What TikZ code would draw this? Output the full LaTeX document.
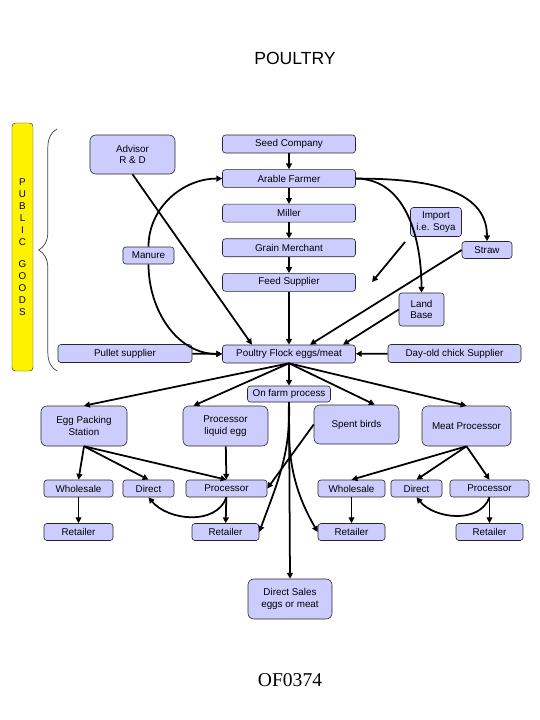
\documentclass[tikz,border=0pt]{standalone}
\usepackage{fontspec}
\setmainfont{Liberation Sans}
\newfontfamily\slidecodefont{Liberation Serif}
\usetikzlibrary{arrows.meta,positioning,decorations.pathreplacing}
\definecolor{boxblue}{RGB}{204,204,255}

\begin{document}
\begin{tikzpicture}[
            x=0.03cm, y=0.03cm,
            node distance=0.48cm,
            font=\fontsize{8.4}{10.2}\selectfont,
            box/.style={draw=black!85, line width=0.5pt, fill=boxblue, rounded corners=2.5pt, minimum width=3.99cm, minimum height=0.54cm, inner sep=1pt, align=center},
            smallbox/.style={box, minimum width=1.53cm, minimum height=0.51cm},
            bigbox/.style={box, rounded corners=5pt, minimum width=2.55cm, minimum height=1.2cm},
            flow/.style={->, line width=1.5pt},
            lightflow/.style={->, line width=0.8pt},
            >={Triangle[length=5pt,width=5pt]}
        ]
        \useasboundingbox (0,0) rectangle (540,-720);

        \node (title) at (295,-58) {\fontsize{15}{18}\selectfont POULTRY};

        % public goods bar and brace
        \node[draw=black!80, fill=yellow, rounded corners=3pt, minimum width=0.63cm, minimum height=7.44cm, inner sep=0pt, align=center] (public) at (22.5,-247) {P\\U\\B\\L\\I\\C\\[8.5pt]G\\O\\O\\D\\S};
        \draw[decorate, decoration={brace, amplitude=0.55cm}, line width=0.6pt, black!75] (57,-371) -- (57,-129);

        % supply chain
        \node[box] (seed) at (289,-144) {Seed Company};
        \node[box, below=of seed] (arable) {Arable Farmer};
        \node[box, below=of arable] (miller) {Miller};
        \node[box, below=of miller] (grain) {Grain Merchant};
        \node[box, below=of grain] (feed) {Feed Supplier};
        \node[box] (flock) at (289,-354) {Poultry Flock eggs/meat};
        \node[box, minimum width=4.02cm] (pullet) at (125,-353.5) {Pullet supplier};
        \node[box] (chick) at (454.5,-353.5) {Day-old chick Supplier};
        \node[bigbox, minimum height=1.17cm] (advisor) at (132.5,-154.5) {Advisor\\R \& D};
        \node[smallbox] (manure) at (148.5,-255.5) {Manure};
        \node[smallbox, minimum height=0.87cm] (import) at (436,-222) {Import\\i.e. Soya};
        \node[smallbox, minimum width=1.5cm] (straw) at (487,-250) {Straw};
        \node[smallbox, minimum width=1.35cm, minimum height=0.99cm] (land) at (421.5,-309.5) {Land\\Base};
        \node[smallbox, minimum width=2.49cm, minimum height=0.48cm] (onfarm) at (289,-394) {On farm process};

        % outlets
        \node[bigbox, minimum width=2.58cm] (eggpack) at (84,-426) {Egg Packing\\Station};
        \node[bigbox] (liquid) at (225.5,-426) {Processor\\liquid egg};
        \node[bigbox, minimum height=1.17cm] (spent) at (356.5,-424.5) {Spent birds};
        \node[bigbox, minimum width=2.67cm] (meat) at (466.5,-426) {Meat Processor};

        \node[smallbox, minimum width=2.07cm] (wholeA) at (78.5,-488.5) {Wholesale};
        \node[smallbox] (directA) at (148.5,-488.5) {Direct};
        \node[smallbox, minimum width=2.43cm] (procA) at (226.5,-488.5) {Processor};
        \node[smallbox, minimum width=2.07cm] (retailA) at (78.5,-532) {Retailer};
        \node[smallbox, minimum width=2.01cm] (retailB) at (225.5,-532) {Retailer};
        \node[smallbox, minimum width=2.01cm] (wholeB) at (351.5,-488.5) {Wholesale};
        \node[smallbox] (directB) at (416.5,-488.5) {Direct};
        \node[smallbox, minimum width=2.37cm] (procB) at (489.5,-488.5) {Processor};
        \node[smallbox, minimum width=2.01cm] (retailC) at (351.5,-532) {Retailer};
        \node[smallbox, minimum width=2.01cm] (retailD) at (489.5,-532) {Retailer};
        \node[bigbox, minimum width=2.52cm] (sales) at (290,-599) {Direct Sales\\eggs or meat};

        \node (slidecode) at (290,-680) {\slidecodefont\fontsize{16.7}{20}\selectfont OF0374};

        \coordinate (soyafrom) at (405,-242);
        \coordinate (soyato) at (372,-282);

        % inputs
        \draw[flow] (seed) -- (arable);
        \draw[flow] (arable) -- (miller);
        \draw[flow] (miller) -- (grain);
        \draw[flow] (grain) -- (feed);
        \draw[flow] (feed) -- (flock);
        \draw[flow] (advisor.south) -- ([xshift=-1.11cm]flock.north);
        \draw[flow] (manure.north) to[out=90, in=180] (arable.west);
        \draw[flow] (manure.south) to[out=-90, in=180] (flock.west);
        \draw[flow] (pullet) -- (flock);
        \draw[flow] (chick) -- (flock);
        \draw[flow] (arable.east) to[out=0, in=90] (straw.north);
        \draw[flow] (arable.east) to[out=0, in=90] (land.north);
        \draw[flow] (straw.west) -- ([xshift=0.63cm]flock.north);
        \draw[flow] (land.west) -- ([xshift=1.62cm]flock.north);
        \draw[flow] (soyafrom) -- (soyato);

        % outputs
        \draw[flow] (flock.south) -- (eggpack.north);
        \draw[flow] (flock.south) -- ([xshift=-0.96cm]liquid.north);
        \draw[flow] (flock) -- (onfarm);
        \draw[flow] (flock.south) -- ([xshift=0.55cm]spent.north);
        \draw[flow] (flock.south) -- (meat.north);
        \draw[flow] (onfarm.south) -- (sales.north);
        \draw[flow] (onfarm.south) to[out=-88, in=70] (retailB.east);
        \draw[flow] (onfarm.south) to[out=-92, in=120] (retailC.west);
        \draw[flow] (spent.west) -- (procA.east);

        \draw[flow] (eggpack.south) -- (wholeA.north);
        \draw[flow] (eggpack.south) -- (directA.north);
        \draw[flow] (eggpack.south) -- (procA.north);
        \draw[flow] (liquid) -- (procA);
        \draw[lightflow] (wholeA) -- (retailA);
        \draw[flow] (procA) -- (retailB);
        \draw[flow] (procA.south) to[out=-110, in=-50] (directA.south);

        \draw[flow] (meat.south) -- (wholeB.north);
        \draw[flow] (meat.south) -- (directB.north);
        \draw[flow] (meat.south) -- (procB.north);
        \draw[lightflow] (wholeB) -- (retailC);
        \draw[lightflow] (procB) -- (retailD);
        \draw[flow] (procB.south) to[out=-110, in=-50] (directB.south);
    \end{tikzpicture}
\end{document}
